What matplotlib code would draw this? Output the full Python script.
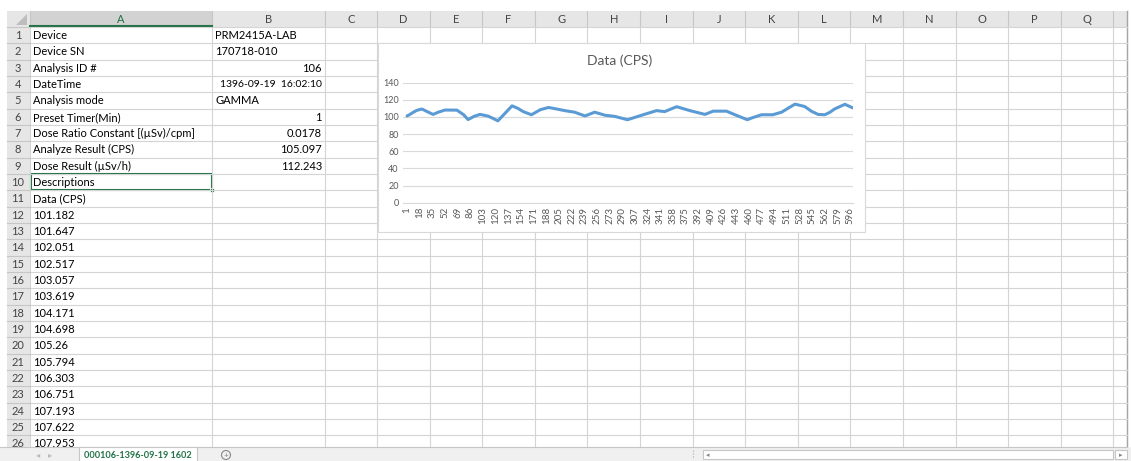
import matplotlib
matplotlib.use("Agg")
import matplotlib.pyplot as plt
from matplotlib.patches import Rectangle, Polygon, Circle

plt.rcParams['font.family'] = ['Lato', 'DejaVu Sans']

# sheet contents
col_a = ["Device", "Device SN", "Analysis ID #", "DateTime", "Analysis mode",
         "Preset Timer(Min)", "Dose Ratio Constant [(µSv)/cpm]",
         "Analyze Result (CPS)", "Dose Result (µSv/h)", "Descriptions", "Data (CPS)"]
col_b = ["PRM2415A-LAB", "170718-010", "106", "1396-09-19  16:02:10", "GAMMA",
         "1", "0.0178", "105.097", "112.243", "", ""]
col_b_right = [False, False, True, True, False, True, True, True, True, False, False]
first_data = [101.182, 101.647, 102.051, 102.517, 103.057, 103.619, 104.171,
              104.698, 105.26, 105.794, 106.303, 106.751, 107.193, 107.622, 107.953]
sheet_name = "000106-1396-09-19 1602"

# chart series (sample number, CPS)
sample_index = list(range(1, 16)) + [21, 28, 36, 43, 52, 68, 77, 83, 91, 99, 110,
                117, 123, 134, 142, 150, 157, 168, 180, 191, 202, 213, 226, 240,
                253, 267, 280, 297, 318, 336, 347, 363, 381, 401, 412, 430, 443,
                458, 464, 477, 492, 504, 513, 522, 535, 544, 553, 562, 569, 575,
                589, 600]
cps_values = first_data + [109.3, 106.3, 103.0, 105.6, 108.1, 108.0, 102.6, 97.0,
              100.7, 103.0, 101.0, 98.1, 95.5, 105.6, 113.0, 110.0, 106.3, 102.6,
              108.5, 111.1, 109.3, 107.4, 105.6, 101.2, 105.6, 102.0, 100.7, 96.8,
              102.6, 107.4, 106.3, 112.0, 107.4, 103.0, 106.8, 106.8, 102.0, 96.8,
              98.9, 102.6, 102.6, 105.6, 110.4, 115.0, 112.2, 106.7, 103.0, 102.6,
              105.6, 109.3, 114.8, 110.4]
n_samples = 600
tick_step = 17
y_ticks = [0, 20, 40, 60, 80, 100, 120, 140]

W, H = 1131, 461
fig = plt.figure(figsize=(W / 100, H / 100), dpi=100)
sheet = fig.add_axes([0, 0, 1, 1])
sheet.set_xlim(0, W)
sheet.set_ylim(H, 0)
sheet.axis('off')

grid_c = '#d4d4d4'
head_bg = '#e6e6e6'
head_line = '#c6c6c6'
green = '#217346'
fs = 8

hdr_top, hdr_bot = 11, 27
row_h = 16.33
body_bot = 447
right_edge = 1127
col_edges = [30, 212, 325] + [377 + 52.6 * i for i in range(15)] + [right_edge]
col_names = [chr(ord('A') + i) for i in range(17)]

# header bands
sheet.add_patch(Rectangle((7, hdr_top), right_edge - 7, hdr_bot - hdr_top, fc=head_bg, ec='none'))
sheet.add_patch(Rectangle((7, hdr_bot), 30 - 7, body_bot - hdr_bot, fc=head_bg, ec='none'))
sheet.add_patch(Rectangle((30, hdr_top), 182, hdr_bot - hdr_top, fc='#d2d2d2', ec='none'))
sheet.add_patch(Polygon([(27, 14), (27, 25), (16, 25)], closed=True, fc='#bdbdbd', ec='none'))

# column letters and separators
for i, name in enumerate(col_names):
    x0, x1 = col_edges[i], col_edges[i + 1]
    sheet.text((x0 + x1) / 2, 19.5, name, ha='center', va='center', fontsize=fs,
               color=green if name == 'A' else '#444444')
for x in col_edges:
    sheet.plot([x, x], [hdr_top, hdr_bot], color=head_line, lw=0.8)
    sheet.plot([x, x], [hdr_bot, body_bot], color=grid_c, lw=0.8)
sheet.plot([30, 212], [hdr_bot - 0.5, hdr_bot - 0.5], color=green, lw=1.5)
sheet.plot([right_edge, right_edge], [hdr_top, body_bot], color='#a6a6a6', lw=1.0)

# rows
n_rows = 26
for r in range(n_rows + 1):
    y = hdr_bot + r * row_h
    if y > body_bot:
        break
    sheet.plot([30, right_edge], [y, y], color=grid_c, lw=0.8)
    sheet.plot([7, 30], [y, y], color=head_line, lw=0.8)
for r in range(n_rows):
    yc = hdr_bot + r * row_h + row_h / 2 + 0.5
    sheet.text(18, yc, str(r + 1), ha='center', va='center', fontsize=fs, color='#444444')

# cell text
a_texts = col_a + ["%g" % v for v in first_data]
for r, txt in enumerate(a_texts):
    yc = hdr_bot + r * row_h + row_h / 2 + 0.5
    sheet.text(33, yc, txt, ha='left', va='center', fontsize=fs, color='black')
for r, (txt, right) in enumerate(zip(col_b, col_b_right)):
    if not txt:
        continue
    yc = hdr_bot + r * row_h + row_h / 2 + 0.5
    size = 7.5 if len(txt) > 15 else fs
    if right:
        sheet.text(322, yc, txt, ha='right', va='center', fontsize=size, color='black')
    else:
        sheet.text(215, yc, txt, ha='left', va='center', fontsize=size, color='black')

# selected cell A10
sel_top = hdr_bot + 9 * row_h
sheet.add_patch(Rectangle((30.5, sel_top), 181, row_h, fc='none', ec=green, lw=1.5))
sheet.add_patch(Rectangle((210, sel_top + row_h - 2), 4, 4, fc=green, ec='white', lw=0.6))

# sheet tab bar
sheet.add_patch(Rectangle((0, body_bot), W, H - body_bot, fc='#f0f0f0', ec='none', zorder=5))
sheet.plot([0, right_edge], [body_bot, body_bot], color='#c6c6c6', lw=0.8, zorder=6)
sheet.text(38, 455, '◂', fontsize=6, color='#bbbbbb', ha='center', va='center', zorder=6)
sheet.text(50, 455, '▸', fontsize=6, color='#bbbbbb', ha='center', va='center', zorder=6)
sheet.add_patch(Rectangle((79, body_bot - 0.5), 118, H - body_bot + 1, fc='white',
                          ec='#c6c6c6', lw=0.8, zorder=6))
sheet.text(138, 455.5, sheet_name, fontsize=6.6, color=green, fontweight='bold',
           ha='center', va='center', zorder=7)
sheet.add_patch(Circle((226, 455), 4.5, fc='none', ec='#888888', lw=0.8, zorder=6))
sheet.text(226, 455, '+', fontsize=6, color='#888888', ha='center', va='center', zorder=7)
sheet.plot([693, 693], [450, 459], color='#aaaaaa', lw=0.8, ls=':', zorder=6)
sheet.add_patch(Rectangle((703, 449.5), 410, 9, fc='white', ec='#c6c6c6', lw=0.8, zorder=6))
sheet.text(708, 454.5, '◂', fontsize=5, color='#888888', ha='center', va='center', zorder=7)
sheet.add_patch(Rectangle((1115, 449.5), 12, 9, fc='white', ec='#c6c6c6', lw=0.8, zorder=6))
sheet.text(1121, 454.5, '▸', fontsize=5, color='#888888', ha='center', va='center', zorder=7)

# embedded chart frame and title
sheet.add_patch(Rectangle((378, 43), 487, 189, fc='white', ec='#d9d9d9', lw=0.8, zorder=8))
sheet.text(620, 61, "Data (CPS)", ha='center', va='center', fontsize=10,
           color='#595959', zorder=9)

pl, pr, pt, pb = 403, 853.5, 82.7, 202.7
ax = fig.add_axes([pl / W, (H - pb) / H, (pr - pl) / W, (pb - pt) / H])
ax.set_zorder(10)
ax.patch.set_alpha(0)
ax.plot(sample_index, cps_values, color='#5B9BD5', lw=2.2, solid_capstyle='round',
        solid_joinstyle='round')
ax.set_xlim(-4.4, n_samples + 0.5)
ax.set_ylim(0, 140)
ax.set_yticks(y_ticks)
ax.set_xticks(range(1, n_samples + 1, tick_step))
ax.set_xticklabels([str(v) for v in range(1, n_samples + 1, tick_step)], rotation=90)
ax.grid(axis='y', color='#d9d9d9', lw=0.8)
ax.set_axisbelow(True)
for side in ['top', 'right', 'left']:
    ax.spines[side].set_visible(False)
ax.spines['bottom'].set_color('#d9d9d9')
ax.spines['bottom'].set_linewidth(0.8)
ax.tick_params(axis='y', length=0, labelsize=6.5, labelcolor='#595959', pad=3)
ax.tick_params(axis='x', length=0, labelsize=7, labelcolor='#595959', pad=3)

fig.savefig('out.png', dpi=100)
